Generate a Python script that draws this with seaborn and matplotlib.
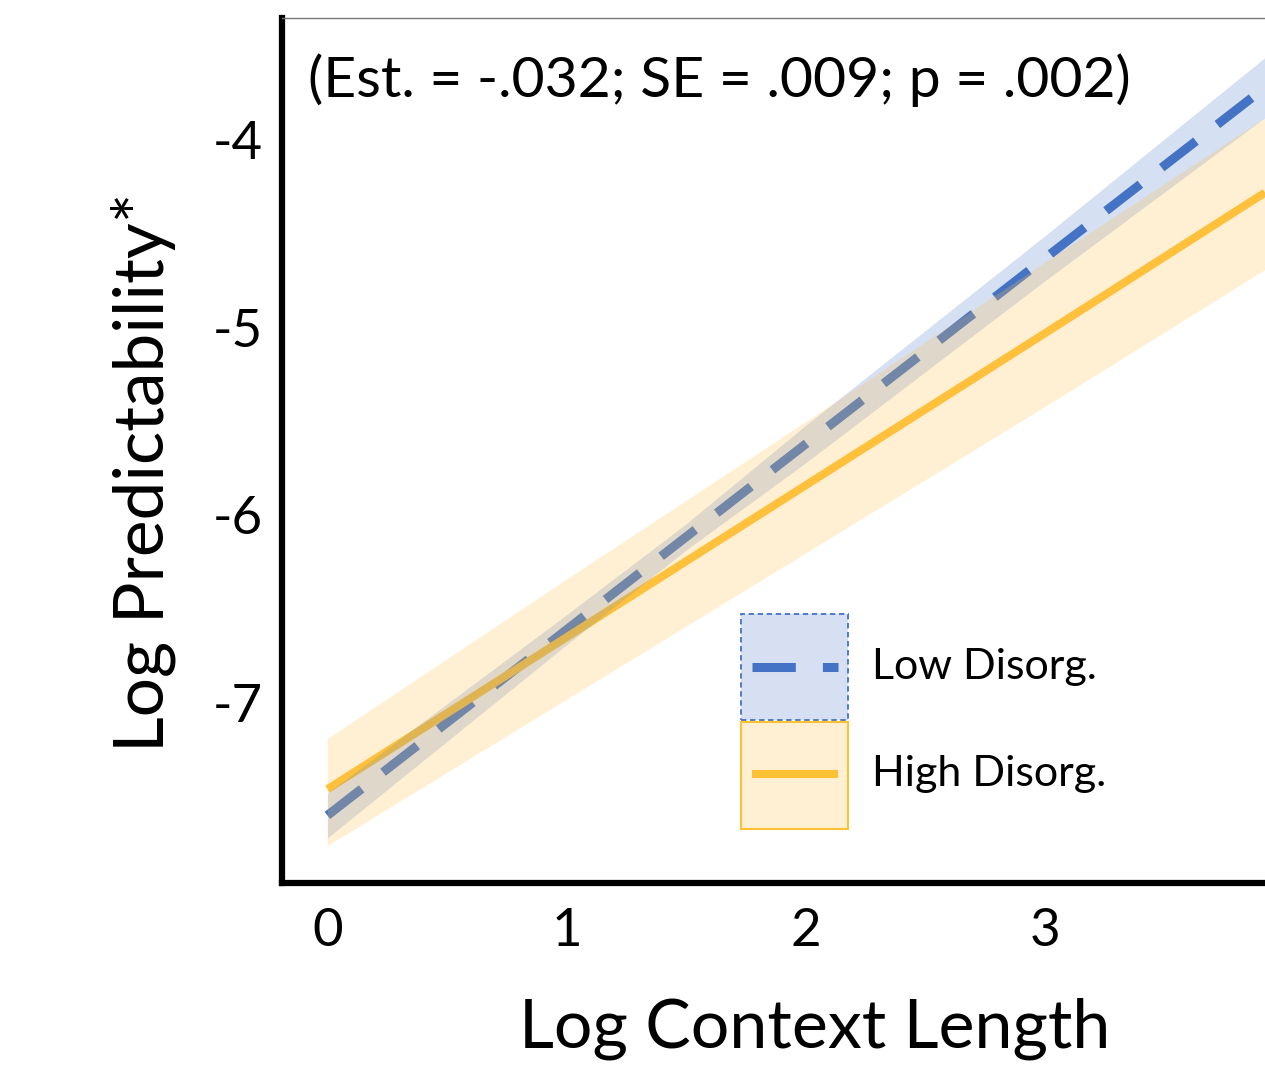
import numpy as np
import pandas as pd
import matplotlib
matplotlib.use("Agg")
import matplotlib.pyplot as plt
import seaborn as sns
from matplotlib.patches import Rectangle
from matplotlib.lines import Line2D

# ---- data ----
x_low = [0.0, 1.0, 1.5, 2.0, 3.0, 3.92]
fit_low = [-7.60, -6.61, -6.115, -5.62, -4.63, -3.72]
upper_low = [-7.48, -6.53, -6.045, -5.52, -4.51, -3.56]
lower_low = [-7.72, -6.69, -6.185, -5.72, -4.75, -3.88]

x_high = [0.0, 1.0, 2.0, 3.0, 3.92]
fit_high = [-7.46, -6.65, -5.84, -5.03, -4.28]
upper_high = [-7.19, -6.34, -5.50, -4.65, -3.88]
lower_high = [-7.76, -6.98, -6.20, -5.42, -4.69]

group_labels = ["Low Disorg.", "High Disorg."]
x_ticks = [0, 1, 2, 3]
y_ticks = [-7, -6, -5, -4]
x_title = "Log Context Length"
y_title = "Log Predictability*"
stats_text = "(Est. = -.032; SE = .009; p = .002)"

BLUE = "#4472C4"
ORANGE = "#FFC134"
BLUE_BAND = (68/255, 114/255, 196/255)
ORANGE_BAND = (255/255, 195/255, 83/255)

sns.set_theme(style="white")
plt.rcParams['font.family'] = ['Lato', 'DejaVu Sans']
plt.rcParams['text.color'] = 'black'
plt.rcParams['axes.labelcolor'] = 'black'

fig = plt.figure(figsize=(12.65, 10.66), dpi=100)
ax = fig.add_axes([0.2229, 0.1717, 0.7771, 0.8113])

df_low = pd.DataFrame({"x": x_low, "y": fit_low})
df_high = pd.DataFrame({"x": x_high, "y": fit_high})

sns.lineplot(data=df_low, x="x", y="y", ax=ax, color=BLUE, lw=6.5,
             zorder=1, solid_capstyle="butt")
ax.lines[-1].set_dashes([4.8, 3.0])
ax.lines[-1].set_dash_capstyle("butt")
sns.lineplot(data=df_high, x="x", y="y", ax=ax, color=ORANGE, lw=5.8,
             zorder=2, solid_capstyle="butt")

ax.fill_between(x_low, lower_low, upper_low, color=BLUE_BAND, alpha=0.22,
                lw=0, zorder=3)
ax.fill_between(x_high, lower_high, upper_high, color=ORANGE_BAND, alpha=0.25,
                lw=0, zorder=4)

ax.set_xlim(-0.19, 3.92)
ax.set_ylim(-7.96, -3.35)
ax.set_xticks(x_ticks)
ax.set_yticks(y_ticks)
ax.set_xticklabels([str(t) for t in x_ticks])
ax.set_yticklabels([str(t) for t in y_ticks])
ax.tick_params(axis="both", direction="out", length=4, width=2.5,
               color="#555555", labelsize=38, labelcolor="black", pad=10)
ax.tick_params(axis="x", pad=14)

for s in ["left", "bottom"]:
    ax.spines[s].set_color("black")
    ax.spines[s].set_linewidth(4.5)
ax.spines["top"].set_color("#777777")
ax.spines["top"].set_linewidth(1.0)
ax.spines["right"].set_visible(False)

ax.set_xlabel(x_title, fontsize=49, color="black")
ax.xaxis.set_label_coords(0.542, -0.133)
ax.xaxis.label.set_va("top")
ax.set_ylabel(y_title, fontsize=50, color="black")
ax.yaxis.set_label_coords(-0.108, 0.475)

ax.text(0.026, 0.928, stats_text, transform=ax.transAxes, fontsize=41,
        ha="left", va="center", color="black")

# legend drawn manually to match the boxed style
bx0, bx1 = 0.467, 0.576
ax.add_patch(Rectangle((bx0, 0.188), bx1 - bx0, 0.123, transform=ax.transAxes,
                       facecolor=(214/255, 224/255, 242/255), edgecolor=BLUE,
                       lw=1.3, ls=(0, (3, 2)), zorder=6))
ax.add_patch(Rectangle((bx0, 0.0624), bx1 - bx0, 0.1236, transform=ax.transAxes,
                       facecolor=(255/255, 240/255, 212/255), edgecolor=ORANGE,
                       lw=1.5, zorder=6))
ax.add_line(Line2D([0.478, 0.566], [0.2497, 0.2497], transform=ax.transAxes,
                   color=BLUE, lw=6.5, dashes=[4.8, 3.0], dash_capstyle="butt", zorder=7))
ax.add_line(Line2D([0.478, 0.566], [0.126, 0.126], transform=ax.transAxes,
                   color=ORANGE, lw=5.8, solid_capstyle="butt", zorder=7))
ax.text(0.600, 0.2497, group_labels[0], transform=ax.transAxes, fontsize=31,
        ha="left", va="center", color="black", zorder=7)
ax.text(0.600, 0.126, group_labels[1], transform=ax.transAxes, fontsize=31,
        ha="left", va="center", color="black", zorder=7)

fig.savefig("out.png", dpi=100)
